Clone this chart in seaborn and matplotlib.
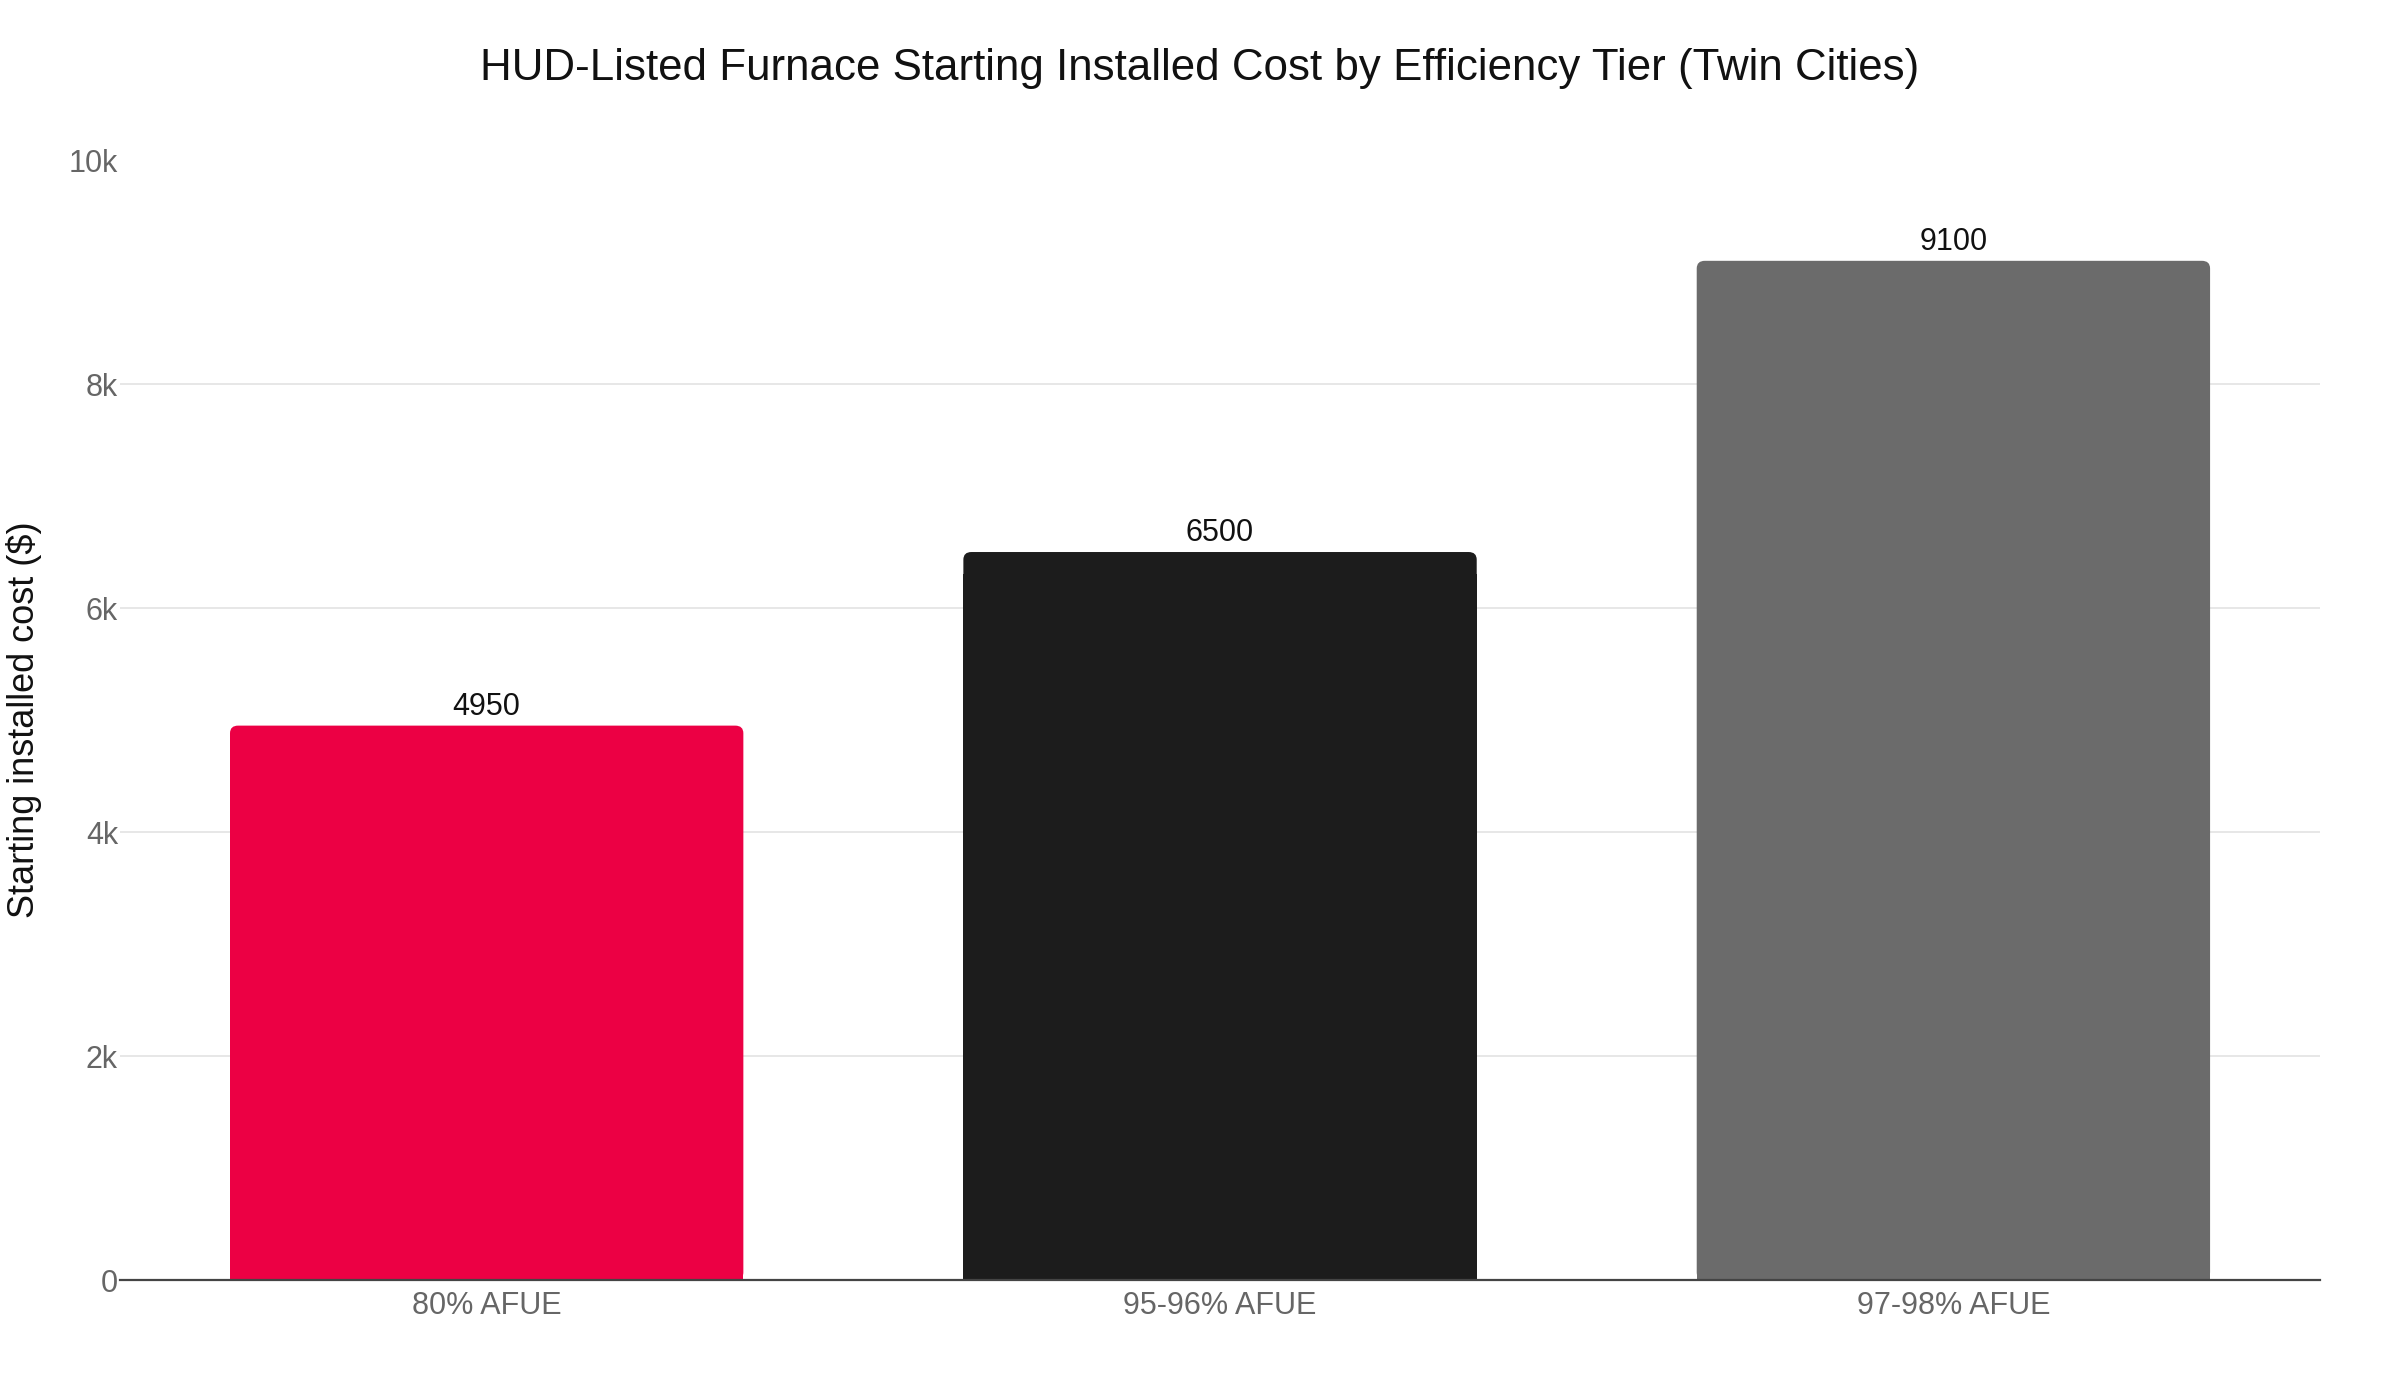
import numpy as np
import pandas as pd
import matplotlib
matplotlib.use("Agg")
import matplotlib.pyplot as plt
import seaborn as sb
from matplotlib.patches import FancyBboxPatch, Rectangle

# Data
tiers = ["80% AFUE", "95-96% AFUE", "97-98% AFUE"]
cost = [4950, 6500, 9100]
bar_colors = ["#EC0044", "#1C1C1C", "#6B6B6B"]
y_ticks = [0, 2000, 4000, 6000, 8000, 10000]
y_tick_labels = ["0", "2k", "4k", "6k", "8k", "10k"]

df = pd.DataFrame({"tier": tiers, "cost": cost})

sb.set_theme(style="white")
plt.rcParams["font.family"] = ["Liberation Sans", "DejaVu Sans"]

fig = plt.figure(figsize=(24, 14), dpi=100)
ax = fig.add_axes([0.05, 0.0857, 0.9167, 0.8])

sb.barplot(data=df, x="tier", y="cost", hue="tier", palette=bar_colors,
           width=0.7, legend=False, ax=ax, saturation=1)

ax.set_xlim(-0.5, 2.5)
ax.set_ylim(0, 10000)

# Rounded top corners like the original
r_x = 0.011
aspect = 68 / r_x
for p in list(ax.patches):
    x, y = p.get_x(), p.get_y()
    w, h = p.get_width(), p.get_height()
    c = p.get_facecolor()
    p.set_visible(False)
    ax.add_patch(FancyBboxPatch((x, y), w, h,
                                boxstyle=f"round,pad=0,rounding_size={r_x}",
                                mutation_aspect=aspect, fc=c, ec="none", zorder=2))
    ax.add_patch(Rectangle((x, y), w, h - 200, fc=c, ec="none", zorder=2))
    ax.text(x + w / 2, h + 98, f"{int(h)}", ha="center", va="baseline",
            fontsize=22, color="#111111", zorder=3)

# Gridlines (no line at 0 or at the top edge)
for t in y_ticks[1:-1]:
    ax.axhline(t, color="#E5E5E5", lw=1.3, zorder=0)

ax.set_yticks(y_ticks)
ax.set_yticklabels(y_tick_labels)
ax.tick_params(axis="y", length=0, labelsize=22, colors="#666666", pad=1.5)
ax.tick_params(axis="x", length=0, labelsize=22, colors="#666666", pad=8)

for s in ["top", "right", "left"]:
    ax.spines[s].set_visible(False)
ax.spines["bottom"].set_color("#444444")
ax.spines["bottom"].set_linewidth(1.6)
ax.spines["bottom"].set_zorder(4)

ax.set_xlabel("")
ax.set_ylabel("Starting installed cost ($)", fontsize=26, color="#111111", va="center")
ax.yaxis.set_label_coords(-0.0436, 0.5)

fig.text(0.5, 1 - 80 / 1400,
         "HUD-Listed Furnace Starting Installed Cost by Efficiency Tier (Twin Cities)",
         ha="center", va="baseline", fontsize=31.6, color="#111111")

fig.savefig("out.png", dpi=100, facecolor="white")
